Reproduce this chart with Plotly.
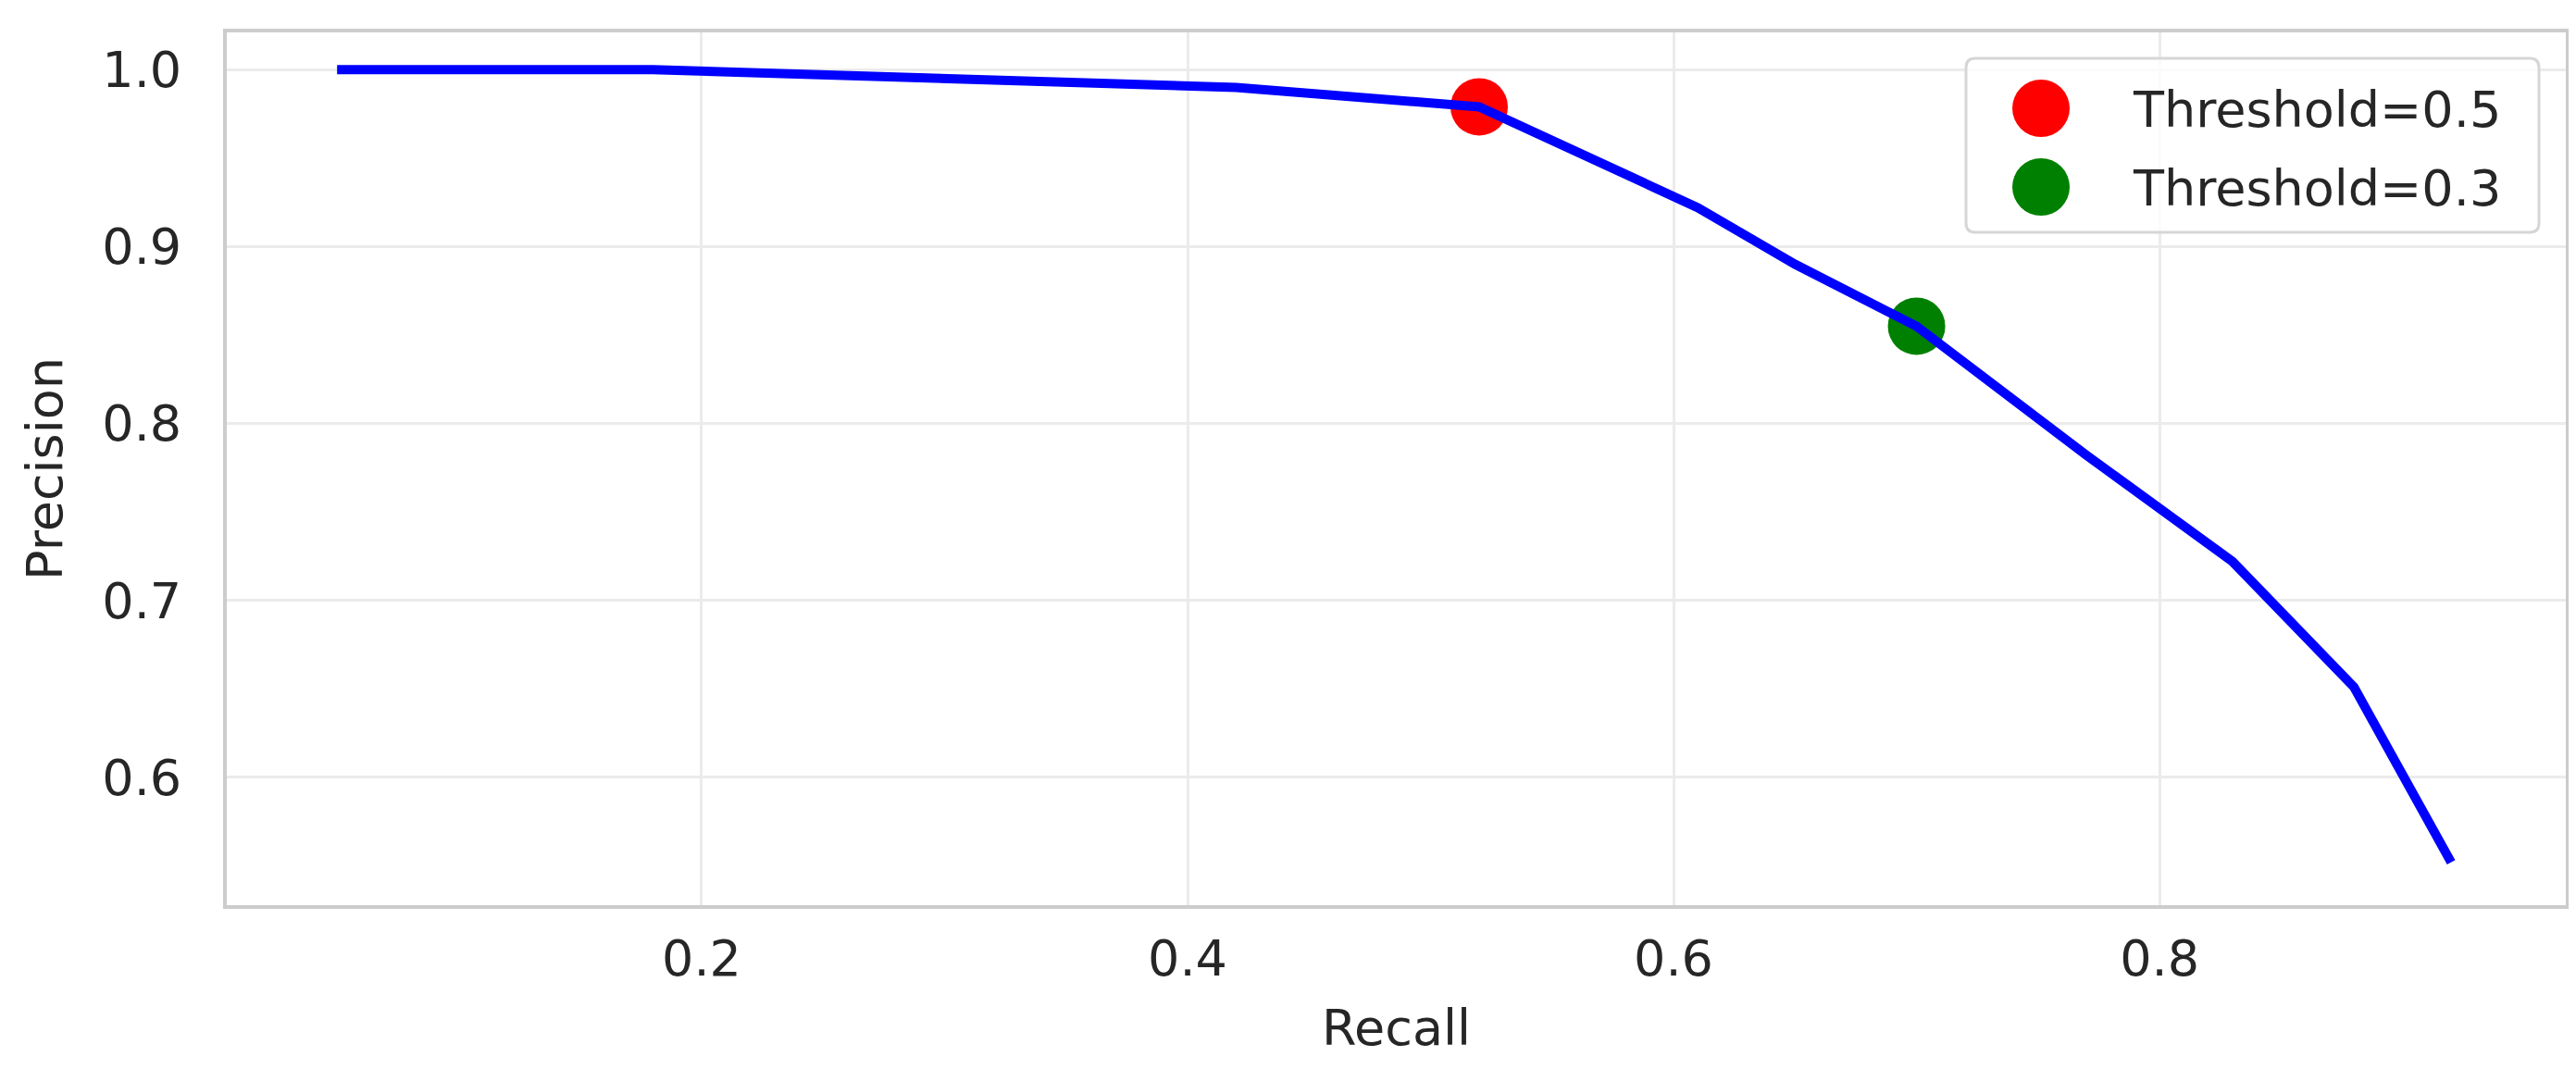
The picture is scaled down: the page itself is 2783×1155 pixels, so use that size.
import plotly.graph_objects as go

recall = [0.05, 0.18, 0.42, 0.52, 0.61, 0.65, 0.70, 0.77, 0.83, 0.88, 0.92]
precision = [1.0, 1.0, 0.99, 0.979, 0.922, 0.89, 0.855, 0.782, 0.722, 0.651, 0.552]

threshold_labels = ["Threshold=0.5", "Threshold=0.3"]
threshold_recall = [0.52, 0.70]
threshold_precision = [0.979, 0.855]
threshold_colors = ["#ff0000", "#008000"]

x_ticks = [0.2, 0.4, 0.6, 0.8]
y_ticks = [0.6, 0.7, 0.8, 0.9, 1.0]

W, H = 2783, 1155
M_L, M_R, M_T, M_B = 237, 19, 27, 185
PLOT_W = W - M_L - M_R
PLOT_H = H - M_T - M_B

FONT = "DejaVu Sans"
TEXT_COLOR = "#262626"
GRID = "#ebebeb"
EDGE = "#cccccc"
FS = 54


def px_x(px):
    return (px - M_L) / PLOT_W


def px_y(py):
    return (H - M_B - py) / PLOT_H


def rounded_rect(x0, y0, x1, y1, r):
    # pixel coords -> paper path with rounded corners
    rx, ry = r / PLOT_W, r / PLOT_H
    a, b = px_x(x0), px_x(x1)
    top, bot = px_y(y0), px_y(y1)
    return (
        f"M {a + rx},{top} L {b - rx},{top} Q {b},{top} {b},{top - ry} "
        f"L {b},{bot + ry} Q {b},{bot} {b - rx},{bot} "
        f"L {a + rx},{bot} Q {a},{bot} {a},{bot + ry} "
        f"L {a},{top - ry} Q {a},{top} {a + rx},{top} Z"
    )


fig = go.Figure()

for label, rx_, py_, color in zip(threshold_labels, threshold_recall, threshold_precision, threshold_colors):
    fig.add_trace(
        go.Scatter(
            x=[rx_],
            y=[py_],
            mode="markers",
            marker=dict(size=62, color=color, line=dict(width=0)),
            name=label,
            showlegend=False,
        )
    )

fig.add_trace(
    go.Scatter(
        x=recall,
        y=precision,
        mode="lines",
        line=dict(color="#0000ff", width=10),
        name="PR curve",
        showlegend=False,
    )
)

# legend drawn by hand so the markers keep their full size
shapes = [
    dict(
        type="path",
        xref="paper",
        yref="paper",
        path=rounded_rect(2116, 55, 2735, 243, 10),
        fillcolor="rgba(255,255,255,0.8)",
        line=dict(color="#d6d6d6", width=3),
        layer="above",
    )
]
annotations = []
legend_rows_y = [109, 194]
for label, color, row_y in zip(threshold_labels, threshold_colors, legend_rows_y):
    shapes.append(
        dict(
            type="circle",
            xref="paper",
            yref="paper",
            xsizemode="pixel",
            ysizemode="pixel",
            xanchor=px_x(2197),
            yanchor=px_y(row_y),
            x0=-31,
            x1=31,
            y0=-31,
            y1=31,
            fillcolor=color,
            line=dict(width=0),
            layer="above",
        )
    )
    annotations.append(
        dict(
            xref="paper",
            yref="paper",
            x=px_x(2294),
            y=px_y(row_y + 2),
            xanchor="left",
            yanchor="middle",
            text=label,
            showarrow=False,
            font=dict(family=FONT, size=FS, color=TEXT_COLOR),
        )
    )

fig.update_layout(
    width=W,
    height=H,
    margin=dict(l=M_L, r=M_R, t=M_T, b=M_B),
    paper_bgcolor="white",
    plot_bgcolor="white",
    font=dict(family=FONT, size=FS, color=TEXT_COLOR),
    shapes=shapes,
    annotations=annotations,
    showlegend=False,
)
fig.update_xaxes(
    range=[0.0046, 0.9672],
    tickvals=x_ticks,
    tickformat=".1f",
    showgrid=True,
    gridcolor=GRID,
    gridwidth=3,
    zeroline=False,
    showline=True,
    mirror=True,
    linecolor=EDGE,
    linewidth=4,
    ticks="outside",
    ticklen=7,
    tickcolor="rgba(0,0,0,0)",
    title=dict(text="Recall", standoff=26, font=dict(size=FS, color=TEXT_COLOR)),
)
fig.update_yaxes(
    range=[0.5277, 1.0211],
    tickvals=y_ticks,
    tickformat=".1f",
    showgrid=True,
    gridcolor=GRID,
    gridwidth=3,
    zeroline=False,
    showline=True,
    mirror=True,
    linecolor=EDGE,
    linewidth=4,
    ticks="outside",
    ticklen=34,
    tickcolor="rgba(0,0,0,0)",
    title=dict(text="Precision", standoff=26, font=dict(size=FS, color=TEXT_COLOR)),
)

fig.write_html("out.html")
